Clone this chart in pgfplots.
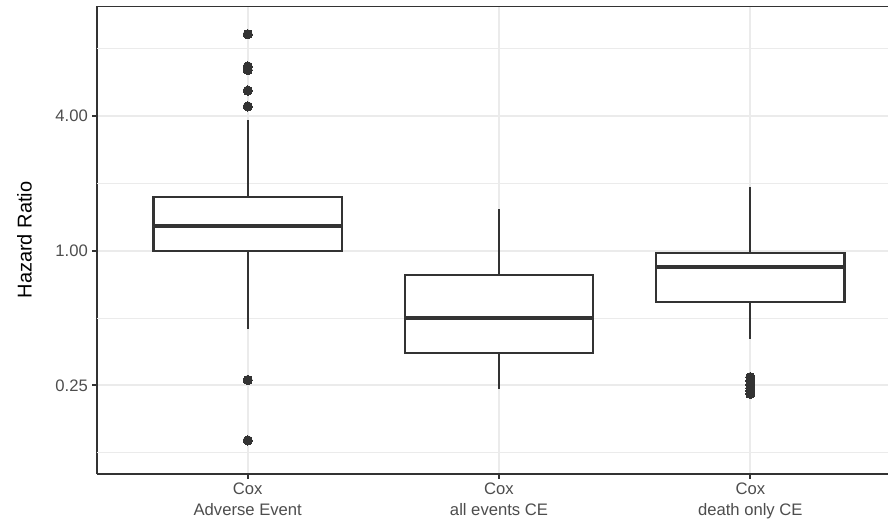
\documentclass[border=0pt]{standalone}
\usepackage{fontspec}
\setmainfont{Liberation Sans}
\usepackage{pgfplots}
\pgfplotsset{compat=1.18}
\usepgfplotslibrary{statistics}
\definecolor{gray20}{HTML}{333333}
\definecolor{gray30}{HTML}{4D4D4D}
\definecolor{gray92}{HTML}{EBEBEB}
\begin{document}
\begin{tikzpicture}
\begin{axis}[
  scale only axis,
  width=494.375pt, height=292.5pt,
  xmin=0.4, xmax=3.548,
  ymode=log, log basis y=2,
  ymin=0.1003, ymax=12.43,
  axis x line*=bottom, axis y line*=left,
  axis line style={draw=gray20, line width=1.2pt},
  xtick={1,2,3},
  xticklabels={{Cox\\Adverse Event},{Cox\\all events CE},{Cox\\death only CE}},
  xticklabel style={align=center, text=gray30, font=\fontsize{10.4}{12.8}\selectfont, inner sep=2.5pt},
  ytick={0.25,1,4},
  yticklabels={0.25,1.00,4.00},
  yticklabel style={text=gray30, font=\fontsize{10.4}{12}\selectfont, inner sep=2.5pt},
  minor tick num=0,
  extra y ticks={0.125,0.5,2,8},
  extra y tick labels={},
  extra y tick style={major tick length=0pt, major grid style={draw=gray92, line width=0.6pt}},
  major tick length=3pt,
  tick align=outside,
  tick style={draw=gray20, line width=1.2pt},
  grid=major,
  major grid style={draw=gray92, line width=1.2pt},
  ylabel={Hazard Ratio},
  every axis y label/.style={at={(rel axis cs:0,0.5)}, anchor=center, xshift=-45.3pt, rotate=90, font=\fontsize{12.5}{14}\selectfont},
  boxplot/draw direction=y,
  boxplot/box extend=0.75,
  boxplot/whisker extend=0,
  boxplot/every median/.style={line width=2.5pt},
]
\addplot+[boxplot prepared={draw position=1, lower whisker=0.448, lower quartile=1.00, median=1.286, upper quartile=1.744, upper whisker=3.84},
  draw=gray20, fill=white, line width=1.3pt, solid,
  mark=*, mark size=2.9pt, mark options={fill=gray20, draw=gray20, line width=0pt}]
  coordinates {(0,9.29) (0,6.67) (0,6.43) (0,5.2) (0,4.42) (0,0.264) (0,0.1418)};
\addplot+[boxplot prepared={draw position=2, lower whisker=0.242, lower quartile=0.35, median=0.502, upper quartile=0.781, upper whisker=1.537},
  draw=gray20, fill=white, line width=1.3pt, solid,
  mark=*, mark size=2.9pt, mark options={fill=gray20, draw=gray20, line width=0pt}]
  coordinates {};
\addplot+[boxplot prepared={draw position=3, lower whisker=0.403, lower quartile=0.590, median=0.848, upper quartile=0.98, upper whisker=1.921},
  draw=gray20, fill=white, line width=1.3pt, solid,
  mark=*, mark size=2.9pt, mark options={fill=gray20, draw=gray20, line width=0pt}]
  coordinates {(0,0.272) (0,0.262) (0,0.252) (0,0.243) (0,0.236) (0,0.229)};
\draw[gray20, line width=1.2pt] (rel axis cs:0,1) -- (rel axis cs:1,1);
\coordinate (sw) at (rel axis cs:0,0);
\coordinate (ne) at (rel axis cs:1,1);
\end{axis}
\pgfresetboundingbox
\path[use as bounding box] ([xshift=-60.6pt,yshift=-34.4pt]sw) rectangle ([yshift=3.75pt]ne);
\end{tikzpicture}
\end{document}
